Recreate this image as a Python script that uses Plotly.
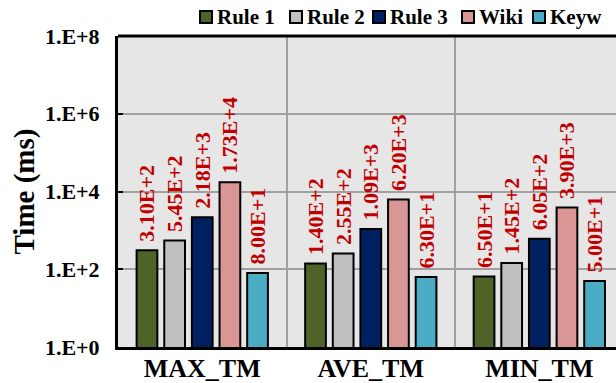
import plotly.graph_objects as go

# Categories, series and values (time in ms)
categories = ["MAX_TM", "AVE_TM", "MIN_TM"]
series_names = ["Rule 1", "Rule 2", "Rule 3", "Wiki", "Keyw"]
rule1 = [310, 140, 65]
rule2 = [545, 255, 145]
rule3 = [2180, 1090, 605]
wiki = [17300, 6200, 3900]
keyw = [80, 63, 50]
series_values = [rule1, rule2, rule3, wiki, keyw]

y_tick_vals = [1, 1e2, 1e4, 1e6, 1e8]
y_tick_text = ["1.E+0", "1.E+2", "1.E+4", "1.E+6", "1.E+8"]

colors = ["#4F6228", "#C0C0C0", "#002060", "#DA9694", "#4BACC6"]
FONT = "Liberation Serif"

W, H = 616, 383
ML, MR, MT, MB = 118, 0, 36, 36
PW, PH = W - ML - MR, H - MT - MB


def sci_label(v):
    """Format like 3.10E+2 (no zero-padded exponent)."""
    mant, exp = f"{v:.2E}".split("E")
    return f"{mant}E{int(exp):+d}"


fig = go.Figure()
for name, vals, col in zip(series_names, series_values, colors):
    fig.add_trace(go.Bar(
        name=name,
        x=categories,
        y=vals,
        marker=dict(color=col, line=dict(color="black", width=2)),
        # leading no-break space lifts the rotated label off the bar top
        text=["\u00a0" + sci_label(v) for v in vals],
        textposition="outside",
        textangle=-90,
        constraintext="none",
        cliponaxis=False,
        textfont=dict(family=FONT, size=22, color="#C00000", weight="bold"),
        showlegend=False,
    ))

# Legend drawn as swatches + labels across the top
legend_px = [200, 290, 373, 462, 533]


def px_to_paper_x(px):
    return (px - ML) / PW


def px_to_paper_y(py):
    return (H - MB - py) / PH


shapes = []
annotations = []
for name, col, px in zip(series_names, colors, legend_px):
    shapes.append(dict(
        type="rect", xref="paper", yref="paper",
        x0=px_to_paper_x(px), x1=px_to_paper_x(px + 12),
        y0=px_to_paper_y(23), y1=px_to_paper_y(11),
        fillcolor=col, line=dict(color="black", width=2),
    ))
    annotations.append(dict(
        xref="paper", yref="paper",
        x=px_to_paper_x(px + 15), y=px_to_paper_y(17),
        xanchor="left", yanchor="middle", showarrow=False,
        text=name, font=dict(family=FONT, size=21, color="black", weight="bold"),
    ))

# Top border of the plot frame
shapes.append(dict(
    type="line", xref="paper", yref="paper", x0=0, x1=1, y0=1, y1=1,
    line=dict(color="black", width=3),
))

fig.update_layout(
    width=W, height=H,
    margin=dict(l=ML, r=MR, t=MT, b=MB, pad=0, autoexpand=False),
    paper_bgcolor="white",
    plot_bgcolor="#E6E6E6",
    barmode="group",
    bargap=0.18,
    bargroupgap=0.25,
    shapes=shapes,
    annotations=annotations,
    xaxis=dict(
        type="category",
        range=[-0.5, 2.455],
        automargin=False,
        tickson="boundaries",
        showgrid=True, gridcolor="#A0A0A0", gridwidth=2,
        showline=True, linecolor="black", linewidth=3,
        ticks="",
        ticklabelstandoff=-4,
        tickfont=dict(family=FONT, size=26, color="black", weight="bold"),
    ),
    yaxis=dict(
        type="log",
        range=[0, 8],
        automargin=False,
        tickvals=y_tick_vals,
        ticktext=y_tick_text,
        showgrid=True, gridcolor="#A0A0A0", gridwidth=2,
        showline=True, linecolor="black", linewidth=3,
        ticks="inside", ticklen=5, tickwidth=2, tickcolor="black",
        ticklabelstandoff=11,
        zeroline=False,
        tickfont=dict(family=FONT, size=22, color="black", weight="bold"),
        title=dict(text="Time (ms)", standoff=2,
                   font=dict(family=FONT, size=29, color="black", weight="bold")),
    ),
)

fig.write_html("out.html")
